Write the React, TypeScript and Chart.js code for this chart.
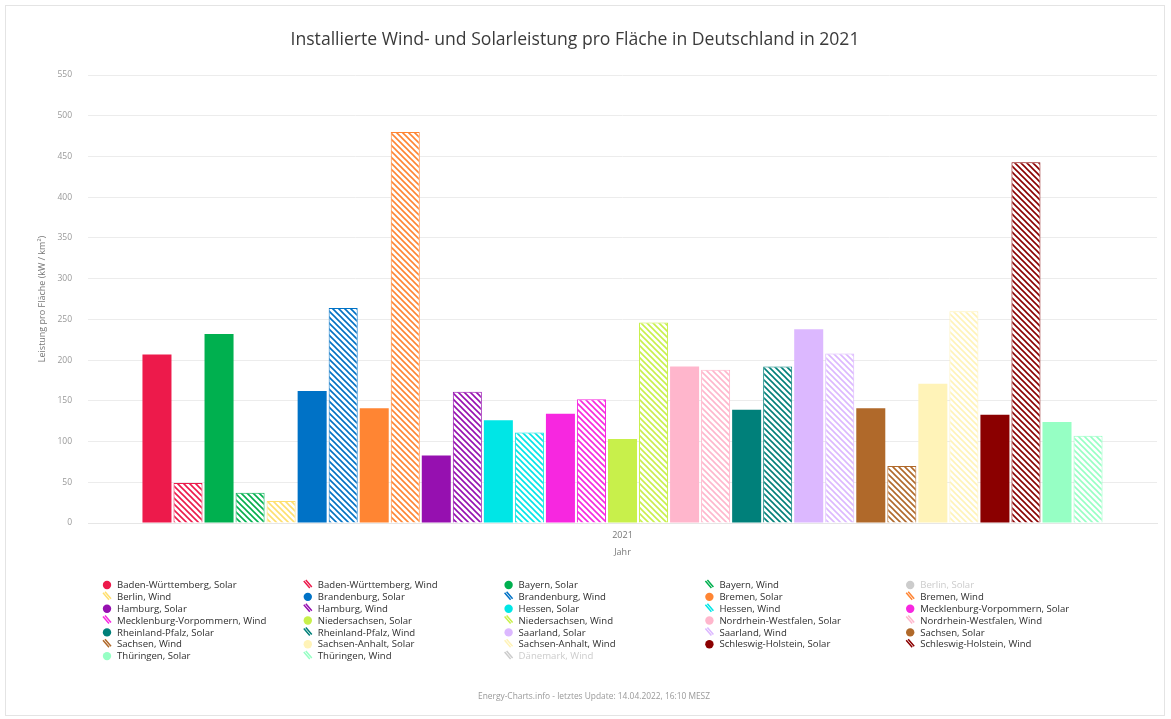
import React, { useEffect, useRef } from "react";
import { Chart, registerables } from "chart.js";

Chart.register(...registerables);

const categories = ["2021"];
const chartTitle = "Installierte Wind- und Solarleistung pro Fläche in Deutschland in 2021";
const yAxisTitle = "Leistung pro Fläche (kW / km²)";
const xAxisTitle = "Jahr";
const footerText = "Energy-Charts.info - letztes Update: 14.04.2022, 16:10 MESZ";

const states = [
  "Baden-Württemberg",
  "Bayern",
  "Berlin",
  "Brandenburg",
  "Bremen",
  "Hamburg",
  "Hessen",
  "Mecklenburg-Vorpommern",
  "Niedersachsen",
  "Nordrhein-Westfalen",
  "Rheinland-Pfalz",
  "Saarland",
  "Sachsen",
  "Sachsen-Anhalt",
  "Schleswig-Holstein",
  "Thüringen",
];

const solarValues = [207, 232, 135, 162, 141, 83, 126, 134, 103, 192, 139, 238, 141, 171, 133, 124];
const windValues = [49, 37, 27, 264, 480, 161, 111, 152, 246, 188, 192, 208, 70, 260, 443, 107];

const stateColors = [
  "#ed1a4b",
  "#00b04f",
  "#ffdf6e",
  "#0072c6",
  "#ff8533",
  "#9610b0",
  "#00e6e6",
  "#f727e0",
  "#c8f04b",
  "#ffb6cc",
  "#00807a",
  "#dcb8ff",
  "#b0692a",
  "#fff3b8",
  "#8b0000",
  "#96ffc4",
];

const extraSeriesName = "Dänemark, Wind";
const extraSeriesValue = [150];
const hiddenSeries = ["Berlin, Solar", "Dänemark, Wind"];
const yTicks = { min: 0, max: 550, step: 50 };

function makePattern(color: string): CanvasPattern | string {
  const p = document.createElement("canvas");
  const s = 6;
  p.width = s;
  p.height = s;
  const c = p.getContext("2d");
  if (!c) return color;
  c.fillStyle = "#ffffff";
  c.fillRect(0, 0, s, s);
  c.strokeStyle = color;
  c.lineWidth = 1.6;
  c.beginPath();
  c.moveTo(0, 0);
  c.lineTo(s, s);
  c.moveTo(-2, s - 2);
  c.lineTo(2, s + 2);
  c.moveTo(s - 2, -2);
  c.lineTo(s + 2, 2);
  c.stroke();
  const pat = c.createPattern(p, "repeat");
  return pat || color;
}

export default function App() {
  const canvasRef = useRef<HTMLCanvasElement | null>(null);

  useEffect(() => {
    const canvas = canvasRef.current;
    if (!canvas) return;
    const ctx = canvas.getContext("2d");
    if (!ctx) return;

    const datasets: any[] = [];
    states.forEach((st, i) => {
      const sName = `${st}, Solar`;
      const wName = `${st}, Wind`;
      datasets.push({
        label: sName,
        data: [solarValues[i]],
        backgroundColor: stateColors[i],
        borderWidth: 0,
        hidden: hiddenSeries.includes(sName),
        _kind: "solar",
        _color: stateColors[i],
      });
      datasets.push({
        label: wName,
        data: [windValues[i]],
        backgroundColor: makePattern(stateColors[i]),
        borderColor: stateColors[i],
        borderWidth: 1,
        hidden: hiddenSeries.includes(wName),
        _kind: "wind",
        _color: stateColors[i],
      });
    });
    datasets.push({
      label: extraSeriesName,
      data: extraSeriesValue,
      backgroundColor: makePattern("#aaaaaa"),
      borderColor: "#aaaaaa",
      borderWidth: 1,
      hidden: hiddenSeries.includes(extraSeriesName),
      _kind: "wind",
      _color: "#aaaaaa",
    });

    const overlay = {
      id: "overlay",
      beforeDraw(chart: any) {
        const c = chart.ctx;
        c.save();
        c.fillStyle = "#ffffff";
        c.fillRect(0, 0, chart.width, chart.height);
        c.strokeStyle = "#e4e4e4";
        c.lineWidth = 1;
        c.strokeRect(5.5, 5.5, 1159, 710);
        c.restore();
      },
      afterDraw(chart: any) {
        const c = chart.ctx;
        c.save();
        // title
        c.fillStyle = "#3a3a3a";
        c.font = '17.6px "Open Sans"';
        c.textAlign = "center";
        c.textBaseline = "middle";
        c.fillText(chartTitle, 575, 40);
        // footer
        c.fillStyle = "#999999";
        c.font = '8.4px "Open Sans"';
        c.fillText(footerText, 594, 697);
        // legend
        const dsList = chart.data.datasets;
        c.textAlign = "left";
        c.font = '9.6px "Open Sans"';
        dsList.forEach((ds: any, i: number) => {
          const col = i % 5;
          const row = Math.floor(i / 5);
          const mx = 107 + col * 200.8;
          const my = 585 + row * 11.85;
          const hidden = chart.getDatasetMeta(i).hidden === true || ds.hidden === true;
          const col1 = hidden ? "#cccccc" : ds._color;
          if (ds._kind === "solar") {
            c.fillStyle = col1;
            c.beginPath();
            c.arc(mx, my, 4.2, 0, Math.PI * 2);
            c.fill();
          } else {
            c.strokeStyle = col1;
            c.lineWidth = 1.5;
            c.beginPath();
            c.moveTo(mx - 4, my - 4);
            c.lineTo(mx + 2, my + 3);
            c.moveTo(mx - 2, my - 5);
            c.lineTo(mx + 4, my + 2);
            c.stroke();
          }
          c.fillStyle = hidden ? "#cccccc" : "#2f2f2f";
          c.fillText(ds.label, mx + 10, my + 0.5);
        });
        c.restore();
      },
    };

    const chart = new Chart(ctx, {
      type: "bar",
      data: { labels: categories, datasets },
      plugins: [overlay],
      options: {
        animation: false,
        responsive: false,
        maintainAspectRatio: false,
        layout: { padding: { left: 0, right: 14, top: 75, bottom: 156 } },
        datasets: {
          bar: { categoryPercentage: 0.9, barPercentage: 0.935 },
        },
        plugins: {
          legend: { display: false },
          title: { display: false },
          tooltip: { enabled: false },
        },
        scales: {
          x: {
            grid: { display: false, drawTicks: false },
            border: { display: true, color: "#e6e6e6" },
            ticks: {
              color: "#777777",
              font: { family: "Open Sans", size: 9 },
              padding: 7,
            },
            title: {
              display: true,
              text: xAxisTitle,
              color: "#777777",
              font: { family: "Open Sans", size: 9 },
              padding: { top: 0, bottom: 5 },
            },
            afterFit(scale: any) {
              scale.height = 40;
            },
          },
          y: {
            min: yTicks.min,
            max: yTicks.max,
            grid: { color: "#ececec", drawTicks: false },
            border: { display: false },
            ticks: {
              stepSize: yTicks.step,
              color: "#999999",
              font: { family: "Open Sans", size: 8.5 },
              padding: 16,
            },
            title: {
              display: true,
              text: yAxisTitle,
              color: "#777777",
              font: { family: "Open Sans", size: 9 },
              padding: { top: 37, bottom: 0 },
            },
            afterFit(scale: any) {
              scale.width = 88;
            },
          },
        },
      } as any,
    });

    return () => {
      chart.destroy();
    };
  }, []);

  return (
    <div style={{ position: "absolute", left: 0, top: 0, width: 1171, height: 719 }}>
      <canvas ref={canvasRef} width={1171} height={719} style={{ display: "block", width: 1171, height: 719 }} />
    </div>
  );
}
